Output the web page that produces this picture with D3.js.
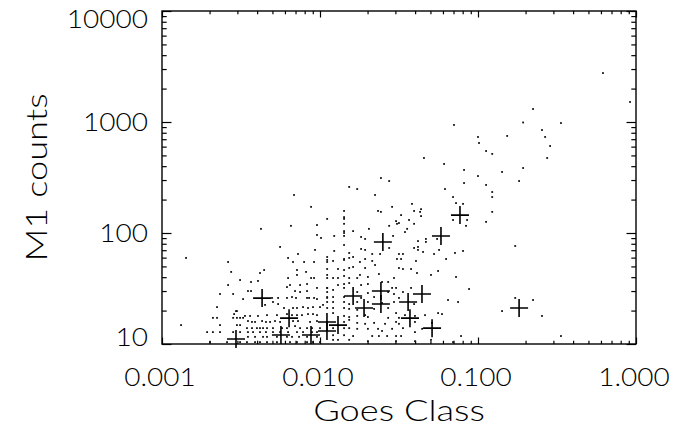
<!DOCTYPE html>
<html><head><meta charset="utf-8">
<script src="https://cdn.jsdelivr.net/npm/d3@7/dist/d3.min.js"></script>
<style>
html,body{margin:0;padding:0;background:#fff;}
svg text{font-family:"DejaVu Sans ExtraLight","Lato Light","Roboto Light","DejaVu Sans",sans-serif;font-weight:200;fill:#000;}
</style></head>
<body><svg id="chart" width="696" height="427"></svg>
<script>
// ---- data ----
const xTickValues = [0.001, 0.01, 0.1, 1];
const xTickLabels = ["0.001", "0.010", "0.100", "1.000"];
const yTickValues = [10, 100, 1000, 10000];
const yTickLabels = ["10", "100", "1000", "10000"];
const xTitle = "Goes Class";
const yTitle = "M1 counts";

// flare events with M1 counts (dots): [goes class, counts]
const scatterPoints = [
[0.00142,59.6],[0.00262,54.8],[0.00628,59.6],[0.00675,54.8],[0.00793,54.8],[0.00917,54.8],[0.0111,60.8],[0.0111,54.8],
[0.00274,44.6],[0.00443,46.4],[0.00417,43.6],[0.00715,46.4],[0.00715,41.9],[0.00816,44.6],[0.00917,39.3],[0.00878,39.3],[0.00628,39.3],[0.0111,41.9],
[0.00312,37.7],[0.00366,36.2],[0.00405,37.0],[0.00646,34.0],[0.00748,34.0],[0.00828,34.7],[0.00262,34.0],
[0.0035,30.0],[0.00366,30.0],[0.00618,32.6],[0.00748,29.4],[0.00695,30.0],[0.00828,30.0],[0.00957,32.0],[0.0111,32.0],[0.0111,29.4],
[0.00233,28.2],[0.00282,28.2],[0.00326,25.4],[0.00497,26.0],[0.00543,26.0],[0.00618,26.0],[0.00665,26.5],[0.00705,26.0],[0.00828,26.0],[0.00853,26.0],[0.00917,26.0],[0.00957,25.4],[0.0111,26.0],
[0.00504,23.9],[0.00449,22.5],[0.00543,22.9],[0.00592,21.1],[0.00675,21.1],[0.00715,21.1],[0.00781,21.5],[0.0084,21.1],[0.00903,21.5],[0.0100,21.5],[0.01045,22.5],[0.0111,23.9],
[0.00223,21.5],[0.00294,19.8],[0.00298,19.8],[0.00286,18.6],[0.00312,17.2],[0.00335,17.9],[0.00361,17.9],[0.00405,17.9],[0.00462,18.2],[0.00534,18.2],[0.00618,18.6],[0.00665,18.2],[0.00715,18.2],[0.00769,18.2],[0.0084,18.6],[0.00903,18.6],[0.00957,18.2],
[0.0021,17.2],[0.00223,17.2],[0.00282,17.2],[0.00298,17.2],[0.00326,17.2],[0.0035,16.1],[0.00371,15.8],[0.00388,15.8],[0.0043,16.1],[0.00455,15.8],[0.00483,15.8],[0.00519,16.1],[0.00559,15.8],[0.00675,16.1],[0.00726,16.1],[0.00865,15.8],[0.00957,16.1],
[0.00132,14.8],[0.00233,14.8],[0.00298,14.8],[0.00312,14.8],[0.00345,13.9],[0.00371,13.9],[0.00399,13.9],[0.00417,13.9],[0.00436,13.9],[0.00462,13.9],[0.00504,13.9],[0.00575,13.9],[0.00618,13.9],[0.00695,14.5],[0.00748,13.9],[0.00828,13.9],[0.0089,13.9],[0.0100,13.9],
[0.00193,12.8],[0.0021,12.8],[0.00233,12.8],[0.00282,12.8],[0.00312,12.8],[0.0035,12.8],[0.00377,12.8],[0.00417,12.8],[0.00455,12.8],[0.00504,12.8],[0.00559,12.8],[0.00628,12.8],[0.00715,12.8],[0.00781,12.8],[0.0089,12.8],[0.00957,12.8],
[0.0035,11.6],[0.00388,11.6],[0.00436,11.6],[0.00462,11.6],[0.00534,11.6],[0.00618,11.6],[0.00665,11.6],[0.00737,11.6],[0.00828,11.6],[0.00957,11.6],
[0.00201,10.4],[0.00258,10.4],[0.00312,10.4],[0.00345,10.4],[0.00388,10.4],[0.00417,10.4],[0.00462,10.4],[0.00534,10.4],[0.00646,10.4],[0.00715,10.4],[0.00828,10.4],[0.00903,10.4],[0.0100,10.4],
[0.00685,220],[0.00878,172],[0.0111,134],[0.00957,118],[0.00655,116],[0.00423,109],[0.00957,96],[0.01015,90.3],[0.00559,74.9],[0.0093,70.4],[0.00726,64.7],
[0.061,419],[0.0816,370],[0.100,326],[0.0243,313],[0.0274,294],[0.0816,282],[0.1125,271],[0.0153,260],[0.0172,249],[0.0618,249],[0.123,234],[0.0223,220],[0.0695,211],[0.123,211],[0.0726,186],[0.0804,183],[0.0382,183],[0.0436,164],[0.0286,172],[0.0394,158],[0.0430,155],[0.0142,158],[0.0233,158],[0.0243,155],[0.123,155],[0.0326,145],[0.0436,142],[0.0142,139],[0.0142,134],[0.0695,131],[0.0853,131],[0.0303,128],[0.0366,131],[0.0316,123],[0.0394,121],[0.0142,121],[0.0307,121],[0.084,116],[0.1125,126],[0.0274,116],[0.0356,109],[0.0204,109],[0.0345,102],[0.029,94.1],[0.0142,104],[0.0142,100],[0.0162,104],[0.0123,94.1],[0.0182,92.1],[0.0193,88.4],[0.0417,84.6],[0.0468,88.4],[0.0468,83.1],[0.0551,88.4],[0.0142,78.0],[0.0182,71.8],[0.0193,70.4],[0.0274,73.3],[0.0394,73.3],[0.0417,74.9],[0.0417,70.4],[0.0449,67.5],[0.0567,70.4],[0.0804,68.9],[0.0123,68.9],[0.0153,66.1],[0.0214,64.7],[0.024,64.7],[0.0316,64.7],[0.0335,64.7],[0.0527,64.7],[0.0715,66.1],[0.0142,58.3],[0.0153,59.6],[0.0193,58.3],[0.0307,58.3],[0.0326,58.3],[0.0628,58.3],[0.0142,94.1],
[0.0111,57.2],[0.0121,56.0],[0.0142,57.2],[0.0162,60.8],[0.0179,54.8],[0.0214,56.0],[0.0223,51.5],[0.0405,56.0],
[0.0111,47.4],[0.013,47.4],[0.0142,46.4],[0.0153,48.4],[0.0162,49.4],[0.0193,48.4],[0.0316,48.4],[0.0335,47.4],[0.0377,47.4],[0.0411,43.6],[0.0559,45.5],
[0.0111,39.3],[0.0121,39.3],[0.013,39.3],[0.0142,41.0],[0.0153,39.3],[0.0172,39.3],[0.0179,41.9],[0.0201,40.2],[0.0236,42.7],[0.0294,39.3],[0.0504,41.9],[0.0726,40.2],
[0.0111,32.0],[0.0121,30.7],[0.013,34.0],[0.0142,34.7],[0.0142,32.0],[0.0153,35.4],[0.0182,34.0],[0.0201,34.7],[0.0247,36.2],[0.027,36.2],[0.0286,32.0],[0.0303,32.0],[0.0377,32.0],[0.0878,31.3],
[0.0111,26.5],[0.0121,26.5],[0.0142,26.5],[0.0172,29.4],[0.0182,26.0],[0.0201,28.8],[0.022,26.5],[0.027,29.4],[0.0294,28.2],[0.0316,26.0],[0.0335,29.4],[0.0646,24.9],[0.0748,23.9],
[0.0121,23.9],[0.0142,23.9],[0.0153,22.9],[0.0172,23.9],[0.0201,23.9],[0.0247,23.4],[0.0294,23.9],[0.0394,22.9],
[0.0111,21.1],[0.0121,21.1],[0.0142,21.1],[0.0153,20.7],[0.0172,20.3],[0.022,20.7],[0.027,21.1],[0.0303,19.0],[0.0121,19.0],
[0.0142,17.9],[0.0153,17.5],[0.0172,17.9],[0.0193,18.2],[0.0201,17.5],[0.027,17.2],[0.0316,17.2],[0.0345,18.2],[0.0399,17.9],[0.0462,18.2],[0.0559,19.0],[0.0592,18.6],
[0.0111,15.8],[0.0142,15.8],[0.0153,16.5],[0.0172,15.5],[0.0193,15.2],[0.022,15.5],[0.0258,15.2],[0.0303,15.8],[0.0316,15.2],[0.0399,15.8],[0.0511,15.5],
[0.0121,13.9],[0.0142,13.9],[0.0153,13.9],[0.0172,13.7],[0.0201,13.7],[0.0233,13.7],[0.0247,13.1],[0.0286,13.7],[0.0335,13.9],[0.0399,12.8],[0.0443,13.7],
[0.0121,12.0],[0.0142,12.0],[0.0162,11.8],[0.0214,11.8],[0.0236,11.8],[0.0266,11.8],[0.0303,11.8],[0.0326,11.8],[0.0781,11.8],
[0.0121,10.9],[0.013,10.9],[0.0153,10.9],[0.0201,10.6],[0.0303,10.6],[0.0399,10.6],[0.0504,10.9],[0.0695,10.4],
[0.618,2760],[0.917,1515],[0.223,1310],[0.193,990],[0.335,979],[0.0705,941],[0.254,847],[0.153,749],[0.100,733],[0.266,733],[0.1015,647],[0.286,608],[0.1125,548],[0.123,516],[0.0455,474],[0.274,474],[0.193,385],[0.142,355],[0.182,294],[0.172,76.4],
[0.172,26.0],[0.223,24.9],[0.142,19.8],[0.254,17.9],[0.335,11.8]
];

// highlighted events (crosses)
const crossGoes   = [0.00294,0.0043,0.00566,0.00637,0.00877,0.01107,0.01107,0.0130,0.0162,0.0190,0.0243,0.0243,0.0250,0.0361,0.0371,0.0442,0.0512,0.0583,0.0769,0.182];
const crossCounts = [11.1,25.9,12.05,17.1,12.05,15.8,13.1,14.8,27.1,21.1,30.0,22.9,83.0,23.9,17.1,28.2,13.9,94,145,21.1];

// ---- layout ----
const W = 696, H = 427;
const plot = {left:162, right:636, top:11, bottom:344};
const svg = d3.select("#chart");

const x = d3.scaleLog().domain([xTickValues[0], xTickValues[xTickValues.length-1]]).range([plot.left, plot.right]);
const y = d3.scaleLog().domain([yTickValues[0], yTickValues[yTickValues.length-1]]).range([plot.bottom, plot.top]);

const isMajor = v => Math.abs(Math.log10(v) - Math.round(Math.log10(v))) < 1e-9;
const xMinor = x.ticks().filter(v => !isMajor(v));
const yMinor = y.ticks().filter(v => !isMajor(v));

const xMajLen = 6.5, xMinLen = 3.3, yMajLen = 9.5, yMinLen = 4.7;
function styleAxis(g){ g.select(".domain").remove(); g.selectAll("line").attr("stroke","#000").attr("stroke-width",1.2); g.selectAll("text").remove(); }

// bottom & top
svg.append("g").attr("transform",`translate(0,${plot.bottom})`).call(d3.axisBottom(x).tickValues(xTickValues).tickSize(-xMajLen).tickSizeOuter(0)).call(styleAxis);
svg.append("g").attr("transform",`translate(0,${plot.bottom})`).call(d3.axisBottom(x).tickValues(xMinor).tickSize(-xMinLen).tickSizeOuter(0)).call(styleAxis);
svg.append("g").attr("transform",`translate(0,${plot.top})`).call(d3.axisTop(x).tickValues(xTickValues).tickSize(-xMajLen).tickSizeOuter(0)).call(styleAxis);
svg.append("g").attr("transform",`translate(0,${plot.top})`).call(d3.axisTop(x).tickValues(xMinor).tickSize(-xMinLen).tickSizeOuter(0)).call(styleAxis);
// left & right
svg.append("g").attr("transform",`translate(${plot.left},0)`).call(d3.axisLeft(y).tickValues(yTickValues).tickSize(-yMajLen).tickSizeOuter(0)).call(styleAxis);
svg.append("g").attr("transform",`translate(${plot.left},0)`).call(d3.axisLeft(y).tickValues(yMinor).tickSize(-yMinLen).tickSizeOuter(0)).call(styleAxis);
svg.append("g").attr("transform",`translate(${plot.right},0)`).call(d3.axisRight(y).tickValues(yTickValues).tickSize(-yMajLen).tickSizeOuter(0)).call(styleAxis);
svg.append("g").attr("transform",`translate(${plot.right},0)`).call(d3.axisRight(y).tickValues(yMinor).tickSize(-yMinLen).tickSizeOuter(0)).call(styleAxis);

// frame
svg.append("rect").attr("x",plot.left).attr("y",plot.top).attr("width",plot.right-plot.left).attr("height",plot.bottom-plot.top)
  .attr("fill","none").attr("stroke","#000").attr("stroke-width",1.4);

// dots
svg.append("g").selectAll("rect").data(scatterPoints).join("rect")
  .attr("x",d=>x(d[0])-0.9).attr("y",d=>y(d[1])-0.9).attr("width",1.8).attr("height",1.8).attr("fill","#111");

// crosses
const arm = 9;
svg.append("g").selectAll("path").data(d3.range(crossGoes.length)).join("path")
  .attr("d",i=>{const cx=x(crossGoes[i]), cy=y(crossCounts[i]); return `M${cx-arm},${cy}H${cx+arm}M${cx},${cy-arm}V${cy+arm}`;})
  .attr("stroke","#000").attr("stroke-width",1.6).attr("fill","none");

// stretched text helper (Hershey-like wide lettering)
function wideText(g, ax, ay, str, size, sx, anchor, rot){
  return g.append("text")
    .attr("transform",`translate(${ax},${ay})${rot?` rotate(${rot})`:""} scale(${sx},1)`)
    .attr("text-anchor",anchor).attr("font-size",size).text(str);
}

// tick labels
const fs = 25, sxTick = 1.12;
const gx = svg.append("g");
xTickValues.forEach((v,i)=>wideText(gx, x(v)-2, plot.bottom+42, xTickLabels[i], fs, sxTick, "middle"));
const gy = svg.append("g");
yTickValues.forEach((v,i)=>{
  const yy = Math.min(plot.bottom-7, Math.max(plot.top+8, y(v)));
  wideText(gy, plot.left-14, yy, yTickLabels[i], fs, sxTick, "end").attr("dy","0.36em");
});

// axis titles
wideText(svg, (plot.left+plot.right)/2, H-6, xTitle, 29, 1.25, "middle");
wideText(svg, 47, (plot.top+plot.bottom)/2, yTitle, 29, 1.25, "middle", -90);
</script></body></html>
